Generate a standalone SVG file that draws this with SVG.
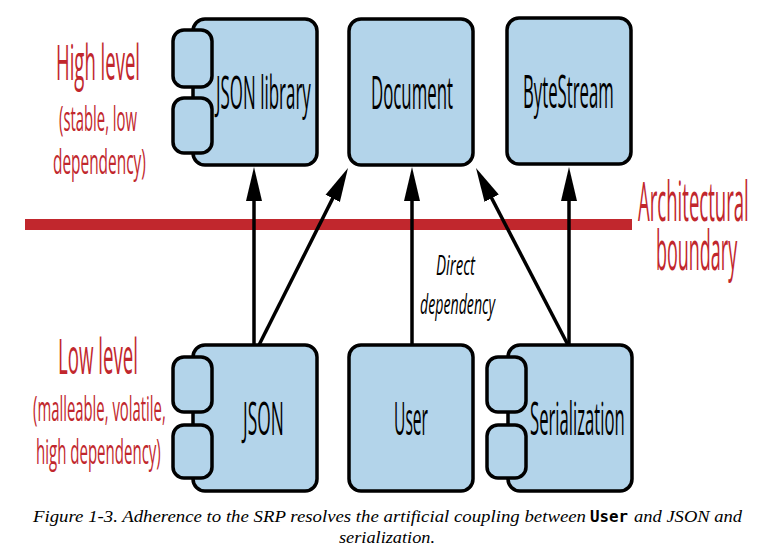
<svg xmlns="http://www.w3.org/2000/svg" width="777" height="557" viewBox="0 0 777 557">
<style>
.box{fill:#b3d4ea;stroke:#000;stroke-width:3.5}
.lbl{font-family:"Open Sans","Liberation Sans",sans-serif;font-size:46px;fill:#000}
.red{font-family:"Open Sans","Liberation Sans",sans-serif;fill:#c1272d}
.it{font-family:"Open Sans","Liberation Sans",sans-serif;font-style:italic;font-size:27px;fill:#000}
.conn{stroke:#000;stroke-width:3.5;fill:none;marker-end:url(#ah)}
.cap{font-family:"Liberation Serif","Times New Roman",serif;font-style:italic;font-size:17.5px;fill:#000}
</style>
<defs>
<marker id="ah" markerUnits="userSpaceOnUse" markerWidth="36" markerHeight="18" refX="24" refY="8" orient="auto" viewBox="0 0 36 16">
<path d="M0,0 L34,8 L0,16 Z" fill="#000"/>
</marker>
</defs>
<rect width="777" height="557" fill="#fff"/>

<g id="boundary">
<rect x="25" y="219" width="607" height="11" fill="#c1272d"/>
<text class="red" transform="translate(638,221) scale(0.4,1)" font-size="54" textLength="277" lengthAdjust="spacingAndGlyphs">Architectural</text>
<text class="red" transform="translate(656,270) scale(0.4,1)" font-size="54" textLength="203" lengthAdjust="spacingAndGlyphs">boundary</text>
</g>

<g id="labels-high">
<text class="red" transform="translate(56,80) scale(0.4,1)" font-size="50" textLength="210" lengthAdjust="spacingAndGlyphs">High level</text>
<text class="red" transform="translate(59,131) scale(0.4,1)" font-size="34" textLength="195" lengthAdjust="spacingAndGlyphs">(stable, low</text>
<text class="red" transform="translate(53,174) scale(0.4,1)" font-size="34" textLength="232" lengthAdjust="spacingAndGlyphs">dependency)</text>
</g>
<g id="labels-low">
<text class="red" transform="translate(58,374) scale(0.4,1)" font-size="50" textLength="200" lengthAdjust="spacingAndGlyphs">Low level</text>
<text class="red" transform="translate(33,421) scale(0.4,1)" font-size="34" textLength="332" lengthAdjust="spacingAndGlyphs">(malleable, volatile,</text>
<text class="red" transform="translate(36,464) scale(0.4,1)" font-size="34" textLength="312" lengthAdjust="spacingAndGlyphs">high dependency)</text>
</g>

<g id="connectors">
<line class="conn" x1="254" y1="345" x2="254" y2="177"/>
<line class="conn" x1="259" y1="345" x2="343.5" y2="176.9"/>
<line class="conn" x1="412" y1="345" x2="412" y2="177"/>
<line class="conn" x1="568" y1="345" x2="480.6" y2="176.9"/>
<line class="conn" x1="569" y1="345" x2="569" y2="177"/>
<text class="it" transform="translate(436,275) scale(0.5,1)" textLength="78" lengthAdjust="spacingAndGlyphs">Direct</text>
<text class="it" transform="translate(420,314) scale(0.5,1)" textLength="150" lengthAdjust="spacingAndGlyphs">dependency</text>
</g>

<g id="json-library">
<rect class="box" x="193" y="19" width="124" height="146" rx="12"/>
<rect class="box" x="173" y="30" width="39" height="57" rx="11"/>
<rect class="box" x="173" y="98" width="39" height="55" rx="11"/>
<text class="lbl" transform="translate(216,109) scale(0.4,1)" textLength="237" lengthAdjust="spacingAndGlyphs">JSON library</text>
</g>
<g id="document">
<rect class="box" x="349" y="19" width="124" height="146" rx="12"/>
<text class="lbl" transform="translate(371,109) scale(0.4,1)" textLength="205" lengthAdjust="spacingAndGlyphs">Document</text>
</g>
<g id="bytestream">
<rect class="box" x="507" y="18" width="124" height="146" rx="12"/>
<text class="lbl" transform="translate(523,108) scale(0.4,1)" textLength="227" lengthAdjust="spacingAndGlyphs">ByteStream</text>
</g>
<g id="json">
<rect class="box" x="193" y="345" width="124" height="146" rx="12"/>
<rect class="box" x="173" y="357" width="39" height="55" rx="11"/>
<rect class="box" x="173" y="425" width="39" height="53" rx="11"/>
<text class="lbl" transform="translate(243,435) scale(0.4,1)" textLength="102" lengthAdjust="spacingAndGlyphs">JSON</text>
</g>
<g id="user">
<rect class="box" x="349" y="345" width="124" height="146" rx="12"/>
<text class="lbl" transform="translate(394,435) scale(0.4,1)" textLength="85" lengthAdjust="spacingAndGlyphs">User</text>
</g>
<g id="serialization">
<rect class="box" x="508" y="345" width="124" height="146" rx="12"/>
<rect class="box" x="487" y="357" width="39" height="55" rx="11"/>
<rect class="box" x="487" y="425" width="39" height="53" rx="11"/>
<text class="lbl" transform="translate(530,435) scale(0.4,1)" textLength="237" lengthAdjust="spacingAndGlyphs">Serialization</text>
</g>

<g id="caption">
<text class="cap" x="33" y="522" textLength="553" lengthAdjust="spacingAndGlyphs">Figure 1-3. Adherence to the SRP resolves the artificial coupling between</text>
<text x="590" y="522" font-family="DejaVu Sans Mono, Liberation Mono, monospace" font-weight="bold" font-size="15" textLength="38" lengthAdjust="spacingAndGlyphs">User</text>
<text class="cap" x="634" y="522" textLength="108" lengthAdjust="spacingAndGlyphs">and JSON and</text>
<text class="cap" x="339" y="543" textLength="96" lengthAdjust="spacingAndGlyphs">serialization.</text>
</g>
</svg>
